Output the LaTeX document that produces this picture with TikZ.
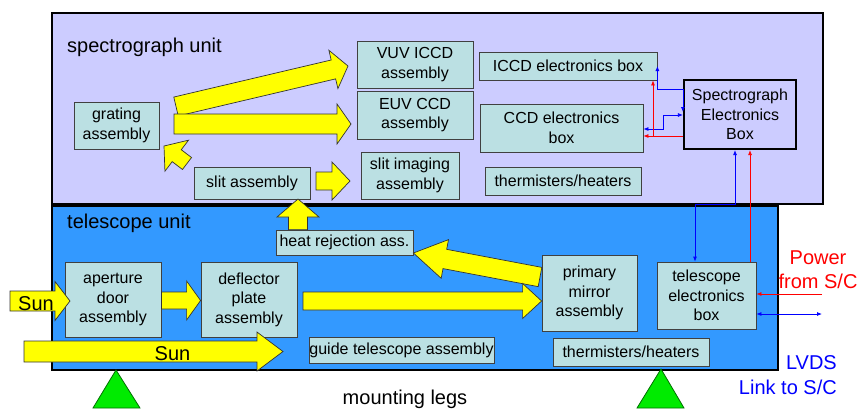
\documentclass[tikz,border=0pt]{standalone}
\usepackage{fontspec}
\setmainfont{Liberation Sans}
\usetikzlibrary{calc,arrows.meta}

\definecolor{specfill}{RGB}{204,204,255}
\definecolor{telfill}{RGB}{51,153,255}
\definecolor{partfill}{RGB}{187,224,227}
\definecolor{beam}{RGB}{255,255,0}
\definecolor{legfill}{RGB}{0,235,0}
\definecolor{legline}{RGB}{0,110,0}

% fat yellow light-path arrow: tail, tip, shaft half-width, head half-width, head length
\newcommand\beamarrow[5]{%
  \coordinate (ba-h) at ($(#2)!#5!(#1)$);
  \draw[beamstyle] ($(#1)!#3!90:(#2)$) -- ($(ba-h)!#3!90:(#2)$) -- ($(ba-h)!#4!90:(#2)$)
    -- (#2) -- ($(ba-h)!#4!-90:(#2)$) -- ($(ba-h)!#3!-90:(#2)$) -- ($(#1)!#3!-90:(#2)$) -- cycle;}

\begin{document}
\begin{tikzpicture}[x=1pt,y=-1pt,
  unitbox/.style={draw=black,line width=2.2pt,inner sep=0pt,anchor=north west},
  part/.style={draw=black!75,line width=0.8pt,fill=partfill,align=center,inner sep=0pt,
    font=\fontsize{16}{19.5}\selectfont},
  beamstyle/.style={draw=black!80,line width=0.7pt,fill=beam,line join=miter},
  sig/.style={line width=0.8pt,-{Latex[length=5pt,width=4pt]}},
  sigboth/.style={line width=0.8pt,{Latex[length=5pt,width=4pt]}-{Latex[length=5pt,width=4pt]}},
  title/.style={font=\fontsize{20}{24}\selectfont,inner sep=0pt},
  leg/.style={draw=legline,line width=0.8pt,fill=legfill}]

\useasboundingbox (0,0) rectangle (859,410);

% the two units
\node[unitbox,fill=specfill,minimum width=771pt,minimum height=191pt] (spec) at (51,12) {};
\node[unitbox,fill=telfill,minimum width=726pt,minimum height=164pt] (tele) at (51,205) {};
\node[title,anchor=base west] (spectitle) at (67,52) {spectrograph unit};
\node[title,anchor=base west] (teletitle) at (67,228) {telescope unit};

% spectrograph unit parts
\node[part,minimum width=85pt,minimum height=47pt] (grating) at (116.5,125.5) {grating\\assembly};
\node[part,minimum width=116pt,minimum height=32pt] (slit) at (252,183) {slit assembly};
\node[part,minimum width=116pt,minimum height=47pt] (vuv) at (415,64.5) {VUV ICCD\\assembly};
\node[part,minimum width=116pt,minimum height=48pt] (euv) at (415,115) {EUV CCD\\assembly};
\node[part,minimum width=98pt,minimum height=47pt] (slitimg) at (410,175.5) {slit imaging\\assembly};
\node[part,minimum width=178pt,minimum height=28pt] (iccdel) at (568,66) {ICCD electronics box};
\node[part,minimum width=163pt,minimum height=48pt] (ccdel) at (561.5,128) {CCD electronics\\box};
\node[part,minimum width=156pt,minimum height=28pt] (thermtop) at (563,181) {thermisters/heaters};
\node[part,draw=black,fill=specfill,line width=2.2pt,minimum width=112pt,minimum height=69pt] (seb)
  at (740,114.5) {Spectrograph\\Electronics\\Box};

% telescope unit parts
\node[part,minimum width=96pt,minimum height=75pt] (aperture) at (113,299.5) {aperture\\door\\assembly};
\node[part,minimum width=96pt,minimum height=75pt] (deflector) at (249,299.5) {deflector\\plate\\assembly};
\node[part,minimum width=137pt,minimum height=25pt] (heatrej) at (344.5,242.5) {heat rejection ass.};
\node[part,minimum width=185pt,minimum height=26pt] (guide) at (401.5,350) {guide telescope assembly};
\node[part,minimum width=95pt,minimum height=76pt] (primary) at (589.5,293) {primary\\mirror\\assembly};
\node[part,minimum width=156pt,minimum height=28pt] (thermbot) at (631,352) {thermisters/heaters};
\node[part,minimum width=99pt,minimum height=67pt] (telel) at (706.5,295.5) {telescope\\electronics\\box};

% mounting legs
\draw[leg] (116,370) -- (140,408) -- (93,408) -- cycle;
\draw[leg] (661,369) -- (684,408) -- (637,408) -- cycle;
\node[title,anchor=base] (legs) at (405,404) {mounting legs};

% helper points for the signal lines
\coordinate (pwr) at (822,294);
\coordinate (lvds) at (822,314);
\coordinate (up1) at (750,0);
\coordinate (lv1) at (695,204);
\coordinate (lv2) at (735,204);
\coordinate (ib) at (0,89);
\coordinate (ib2) at (0,112);
\coordinate (cb1) at (663,129);
\coordinate (cb2) at (663,115);
\coordinate (rc) at (653,136);

% power (red) and data (blue) lines
\draw[sig,red] (pwr) -- (telel.east |- pwr);
\draw[sigboth,blue] (telel.east |- lvds) -- (lvds);
\draw[sig,red] (telel.north -| up1) -- (seb.south -| up1);
\draw[sigboth,blue] (telel.north -| lv1) -- (lv1) -- (lv2) -- (seb.south -| lv2);
\draw[sigboth,blue] (iccdel.east) -- (iccdel.east |- ib) -- (seb.west |- ib) -- (seb.west |- ib2);
\draw[sigboth,blue] (ccdel.east |- cb1) -- (cb1) -- (cb2) -- (seb.west |- cb2);
\draw[sig,red] (seb.west |- rc) -- (ccdel.east |- rc);
\draw[sig,red] (rc) -- (iccdel.south -| rc);

% light path
\coordinate (b1s) at (176,106.5);  \coordinate (b1e) at (348,66);
\coordinate (b2s) at (174,124);    \coordinate (b2e) at (351,124);
\coordinate (b3s) at (187,163.5);  \coordinate (b3e) at (164,146);
\coordinate (b4s) at (316,181);    \coordinate (b4e) at (350,181);
\coordinate (b5e) at (298,199);
\coordinate (b6s) at (540,277);
\coordinate (b7s) at (303,301);
\coordinate (b9s) at (10,301);     \coordinate (b9e) at (70,301);
\coordinate (b10s) at (24,351.5);  \coordinate (b10e) at (283,351.5);

\beamarrow{b1s}{b1e}{9.7pt}{19.7pt}{15pt}
\beamarrow{b2s}{b2e}{10pt}{20pt}{14pt}
\beamarrow{b3s}{b3e}{7.5pt}{19.5pt}{16pt}
\beamarrow{b4s}{b4e}{9pt}{19pt}{18pt}
\beamarrow{heatrej.north -| b5e}{b5e}{9.5pt}{21pt}{18pt}
\beamarrow{b6s}{heatrej.east |- 0,253}{9.8pt}{19.7pt}{32pt}
\beamarrow{b7s}{primary.west |- b7s}{9pt}{17.5pt}{19pt}
\beamarrow{aperture.east |- 0,300.5}{deflector.west |- 0,300.5}{8.5pt}{19.5pt}{14pt}
\beamarrow{b9s}{b9e}{10pt}{19.5pt}{15pt}
\beamarrow{b10s}{b10e}{10.5pt}{19.5pt}{26pt}

\node[title] (sun1) at (36,304) {Sun};
\node[title] (sun2) at (172.5,354) {Sun};

% external links
\node[title,text=red,align=center,font=\fontsize{20}{24.5}\selectfont] (power) at (818,269.5) {Power\\from S/C};
\node[title,text=blue,align=right,anchor=east,font=\fontsize{20}{25}\selectfont] (lvdslabel) at (837,375) {LVDS\\Link to S/C};
\end{tikzpicture}
\end{document}
